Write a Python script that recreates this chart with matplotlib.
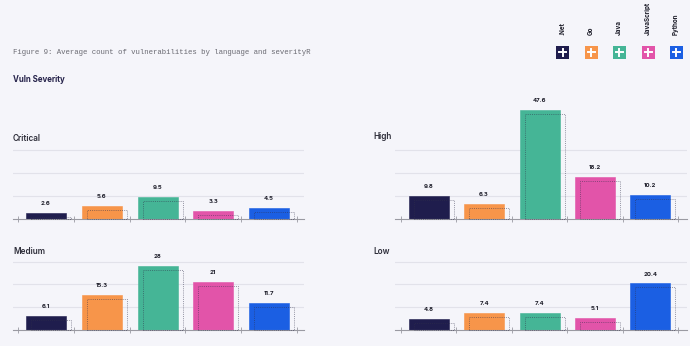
import matplotlib
matplotlib.use("Agg")
import matplotlib.pyplot as plt
from matplotlib.patches import Rectangle
from matplotlib.lines import Line2D

# data
languages = [".Net", "Go", "Java", "JavaScript", "Python"]
colors = ["#1f1d4d", "#f7954a", "#45b596", "#e254a9", "#1b5fe3"]
critical = [2.6, 5.6, 9.5, 3.3, 4.5]
high = [9.8, 6.3, 47.6, 18.2, 10.2]
medium = [6.1, 15.3, 28, 21, 11.7]
low = [4.8, 7.4, 7.4, 5.1, 20.4]

BG = "#f5f5fa"
W, H = 690, 346
fig = plt.figure(figsize=(W / 100, H / 100), dpi=100, facecolor=BG)

def fx(px): return px / W
def fy(py): return 1 - py / H

PX_PER_UNIT = 2.28
YMAX = 50

def panel(x0, x1, base, tick0, tick1, title, tx, ty, vals):
    h = YMAX * PX_PER_UNIT
    ax = fig.add_axes([fx(x0), fy(base), fx(x1 - x0), h / H])
    ax.patch.set_alpha(0)
    step = (tick1 - tick0) / 5
    lo = -0.5 - (tick0 - x0) / step
    hi = 4.5 + (x1 - tick1) / step
    ax.set_xlim(lo, hi); ax.set_ylim(0, YMAX)
    for s in ("top", "right", "left"):
        ax.spines[s].set_visible(False)
    ax.spines["bottom"].set_color("#9a9aa2"); ax.spines["bottom"].set_linewidth(0.8)
    ax.set_xticks([i - 0.5 for i in range(6)]); ax.set_xticklabels([])
    ax.tick_params(axis="x", direction="inout", length=4, width=0.6, color="#9a9aa2")
    ax.set_yticks([10, 20, 30]); ax.set_yticklabels([])
    ax.tick_params(axis="y", length=0)
    ax.set_axisbelow(True)
    ax.grid(axis="y", color="#e2e2ea", lw=0.8)
    bw = 40 / step
    dx = 5 / step
    dy = 4 / PX_PER_UNIT
    for i, v in enumerate(vals):
        ax.bar(i, v, width=bw, color=colors[i], edgecolor=colors[i], lw=0.4, zorder=2)
        sh = Rectangle((i - bw / 2 + dx, 0), bw, max(v - dy, 0), fill=False,
                       ls=(0, (1, 1.2)), lw=0.7, edgecolor="#30304a", alpha=0.5,
                       zorder=3, clip_on=False)
        ax.add_patch(sh)
        ax.annotate(f"{v:g}", (i, v), xytext=(0, 5), textcoords="offset points",
                    ha="center", va="bottom", fontsize=4.3, fontweight="bold",
                    color="#1c1c28", family="Inter")
    fig.text(fx(tx), fy(ty), title, fontsize=5.9, fontweight="semibold",
             color="#2e2e3a", family="Inter", va="center", ha="left")
    return ax

panel(13, 304, 218.5, 18, 297, "Critical", 13, 138, critical)
panel(395, 687, 218.5, 401, 678, "High", 373, 137, high)
panel(13, 304, 330, 18, 297, "Medium", 13, 252, medium)
panel(395, 687, 330, 401, 678, "Low", 373, 251, low)

fig.text(fx(13), fy(53), "Figure 9: Average count of vulnerabilities by language and severityR",
         family="Liberation Mono", fontsize=5.35, color="#6a6a72", va="center", ha="left")
fig.text(fx(13), fy(80), "Vuln Severity", family="Inter", fontsize=5.7, fontweight="bold",
         color="#25224a", va="center", ha="left")

# legend
lx = [562.5, 591, 619, 648, 676]
for x, lab, c in zip(lx, languages, colors):
    s = 13
    fig.add_artist(Rectangle((fx(x - s / 2), fy(58.5)), s / W, s / H, transform=fig.transFigure,
                             facecolor=c, edgecolor="none"))
    cy = 52
    fig.add_artist(Line2D([fx(x - 3.5), fx(x + 3.5)], [fy(cy), fy(cy)], color="white", lw=1.4,
                          transform=fig.transFigure))
    fig.add_artist(Line2D([fx(x), fx(x)], [fy(cy - 3.5), fy(cy + 3.5)], color="white", lw=1.4,
                          transform=fig.transFigure))
    fig.text(fx(x), fy(35), lab, rotation=90, ha="center", va="bottom", fontsize=4.5,
             fontweight="bold", color="#1c1c28", family="Inter")

fig.savefig("out.png", dpi=100, facecolor=BG)
